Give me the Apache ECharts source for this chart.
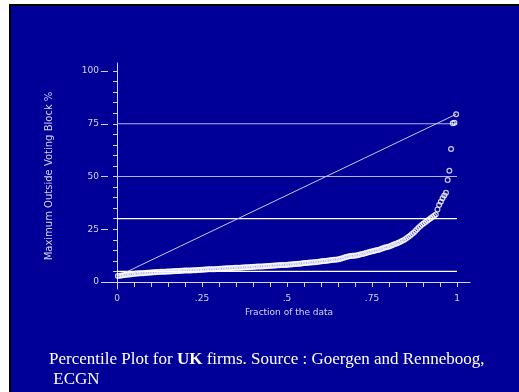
<!DOCTYPE html>
<html><head><meta charset="utf-8">
<script src="https://cdn.jsdelivr.net/npm/echarts@6/dist/echarts.min.js"></script>
<style>
html,body{margin:0;padding:0;background:#fff;width:519px;height:392px;overflow:hidden}
#shadow{position:absolute;left:9px;top:4px;width:510px;height:388px;background:#000}
#slide{position:absolute;left:11px;top:6px;width:508px;height:386px;background:#000099}
#chart{position:absolute;left:0;top:0;width:519px;height:392px}
</style></head>
<body><div id="shadow"></div><div id="slide"></div><div id="chart"></div>
<script>
// sorted values (Maximum Outside Voting Block %)
var values = [
 2.8, 3.0, 3.1, 3.2, 3.3, 3.4, 3.5, 3.6, 3.7, 3.8,
 3.9, 4.0, 4.0, 4.1, 4.2, 4.2, 4.3, 4.4, 4.4, 4.5,
 4.5, 4.6, 4.6, 4.7, 4.7, 4.8, 4.8, 4.9, 4.9, 5.0,
 5.0, 5.0, 5.1, 5.1, 5.2, 5.2, 5.2, 5.3, 5.3, 5.4,
 5.4, 5.4, 5.5, 5.5, 5.6, 5.6, 5.6, 5.7, 5.7, 5.8,
 5.8, 5.9, 5.9, 6.0, 6.0, 6.1, 6.1, 6.1, 6.2, 6.2,
 6.3, 6.3, 6.4, 6.4, 6.5, 6.5, 6.5, 6.6, 6.6, 6.7,
 6.7, 6.8, 6.8, 6.9, 6.9, 7.0, 7.0, 7.0, 7.1, 7.1,
 7.2, 7.2, 7.3, 7.3, 7.4, 7.4, 7.5, 7.5, 7.6, 7.6,
 7.7, 7.7, 7.8, 7.8, 7.9, 7.9, 8.0, 8.0, 8.1, 8.1,
 8.2, 8.3, 8.3, 8.4, 8.5, 8.5, 8.6, 8.7, 8.8, 8.9,
 9.0, 9.0, 9.1, 9.2, 9.3, 9.4, 9.4, 9.5, 9.6, 9.7,
 9.8, 9.9, 10.0, 10.1, 10.2, 10.3, 10.4, 10.5, 10.6, 10.7,
 10.8, 11.0, 11.2, 11.5, 11.8, 12.0, 12.2, 12.3, 12.4, 12.5,
 12.6, 12.7, 12.9, 13.1, 13.3, 13.5, 13.8, 14.0, 14.2, 14.4,
 14.6, 14.8, 15.0, 15.2, 15.4, 15.7, 16.0, 16.3, 16.5, 16.7,
 17.0, 17.3, 17.6, 18.0, 18.3, 18.6, 19.0, 19.4, 19.8, 20.3,
 20.8, 21.4, 22.0, 22.7, 23.4, 24.2, 25.0, 25.8, 26.5, 27.2,
 27.8, 28.4, 29.0, 29.6, 30.2, 30.8, 31.4, 32.0, 34.4, 36.5,
 38.0, 39.7, 41.0, 42.3, 48.3, 52.7, 63.0, 75.2, 75.5, 79.5
];
var refLines = [5, 30, 50, 75];
var xTickValues = [0,0.05,0.1,0.15,0.2,0.25,0.3,0.35,0.4,0.45,0.5,0.55,0.6,0.65,0.7,0.75,0.8,0.85,0.9,0.95,1];
var xLabelValues = [0, 0.25, 0.5, 0.75, 1];
var xLabelText = ['0', '.25', '.5', '.75', '1'];
var yMinorTicks = [0,5,10,15,20,25,30,35,40,45,50,55,60,65,70,75,80,85,90,95,100];
var yLabelValues = [0, 25, 50, 75, 100];
var yLabelText = ['0', '25', '50', '75', '100'];
var xTitle = 'Fraction of the data';
var yTitle = 'Maximum Outside Voting Block %';

var refLineColors = {5:'#ffffff', 30:'#ffffff', 50:'#b4b4e4', 75:'#b4b4e4'};
var n = values.length;
var points = values.map(function(v, i){ return [(i + 0.5) / n, v]; });
var diag = [points[0], points[n - 1]];

var axisCol = '#d4d4f0';
var font = 'DejaVu Sans';
var series = refLines.map(function(v){
  return {type:'line', data:[[0, v],[1, v]], symbol:'none', silent:true,
    lineStyle:{color:refLineColors[v], width:1.2}, z:2};
});
series.push({type:'line', data:diag, symbol:'none', lineStyle:{color:'#c8c8e6', width:1}, z:3});
series.push({type:'scatter', data:points, symbol:'circle', symbolSize:4.8,
  itemStyle:{color:'rgba(0,0,0,0)', borderColor:'#ffffff', borderWidth:1.2}, z:4});
series.push({type:'line', yAxisIndex:1, data:[], z:1});

var chart = echarts.init(document.getElementById('chart'), null, {renderer:'canvas'});
chart.setOption({
  animation:false,
  backgroundColor:'transparent',
  title:{
    left:44, top:345,
    text:'{a|Percentile Plot for }{b|UK}{a| firms. Source : Goergen and Renneboog,}\n{a| ECGN}',
    textStyle:{fontWeight:'normal', rich:{
      a:{fontFamily:'Liberation Serif', fontSize:17, fontWeight:'normal', color:'#ffffff', lineHeight:20},
      b:{fontFamily:'Liberation Serif', fontSize:17, fontWeight:'bold', color:'#ffffff', lineHeight:20}
    }}
  },
  grid:{left:108, right:49, top:63, bottom:103},
  xAxis:{type:'value', min:-9/340, max:1+13/340,
    name:xTitle, nameLocation:'middle', nameGap:19,
    nameTextStyle:{color:axisCol, fontFamily:font, fontSize:9},
    axisLine:{lineStyle:{color:axisCol, width:1}},
    axisTick:{show:true, length:5, customValues:xTickValues, lineStyle:{color:axisCol}},
    axisLabel:{customValues:xLabelValues, margin:5, color:axisCol, fontFamily:font, fontSize:9,
      formatter:function(v){ var k = xLabelValues.indexOf(v); return k >= 0 ? xLabelText[k] : ''; }},
    splitLine:{show:false}},
  yAxis:[{type:'value', min:-7/2.11, max:100+8/2.11,
    name:yTitle, nameLocation:'middle', nameGap:54, nameRotate:90,
    nameTextStyle:{color:axisCol, fontFamily:font, fontSize:10},
    axisLine:{lineStyle:{color:axisCol, width:1}},
    axisTick:{show:true, length:4, customValues:yMinorTicks, lineStyle:{color:axisCol}},
    axisLabel:{customValues:yLabelValues, margin:9, color:axisCol, fontFamily:font, fontSize:9,
      formatter:function(v){ var k = yLabelValues.indexOf(v); return k >= 0 ? yLabelText[k] : ''; }},
    splitLine:{show:false}},
   {type:'value', min:-7/2.11, max:100+8/2.11, position:'left',
    axisLine:{show:false},
    axisTick:{show:true, length:7, customValues:yLabelValues, lineStyle:{color:axisCol}},
    axisLabel:{show:false}, splitLine:{show:false}}],
  series:series
});
</script></body></html>
